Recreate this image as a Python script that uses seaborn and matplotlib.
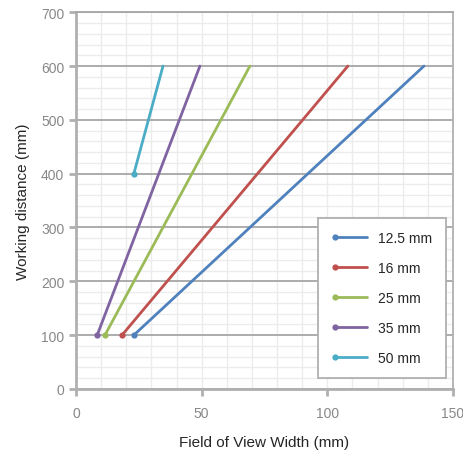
import matplotlib
matplotlib.use("Agg")
import matplotlib.pyplot as plt
import seaborn as sns
from matplotlib.ticker import MultipleLocator

# Field of view width (mm) at working distance, per lens focal length
labels = ["12.5 mm", "16 mm", "25 mm", "35 mm", "50 mm"]
distance = {
    "12.5 mm": [100, 600],
    "16 mm": [100, 600],
    "25 mm": [100, 600],
    "35 mm": [100, 600],
    "50 mm": [400, 600],
}
fov_width = {
    "12.5 mm": [23.0, 138.5],
    "16 mm": [18.3, 108.2],
    "25 mm": [11.5, 69.2],
    "35 mm": [8.4, 49.3],
    "50 mm": [23.0, 34.6],
}
colors = ["#4F81BD", "#C0504D", "#9BBB59", "#8064A2", "#4BACC6"]

sns.set_style("white")
plt.rcParams['font.family'] = ['Liberation Sans', 'DejaVu Sans']

fig, ax = plt.subplots(figsize=(4.64, 4.56), dpi=100)
fig.subplots_adjust(left=0.164, right=0.976, top=0.971, bottom=0.145)

for lab, col in zip(labels, colors):
    sns.lineplot(x=fov_width[lab], y=distance[lab], ax=ax, color=col,
                 linewidth=2, marker='o', markersize=4.5, markeredgewidth=0,
                 markevery=[0], label=lab, sort=False)

ax.set_xlim(0, 150)
ax.set_ylim(0, 700)
ax.xaxis.set_major_locator(MultipleLocator(50))
ax.yaxis.set_major_locator(MultipleLocator(100))
ax.xaxis.set_minor_locator(MultipleLocator(10))
ax.yaxis.set_minor_locator(MultipleLocator(20))

ax.grid(which='minor', color='#ececec', linewidth=1)
ax.grid(which='major', axis='x', color='#ececec', linewidth=1)
ax.grid(which='major', axis='y', color='#a6a6a6', linewidth=1.3)
ax.set_axisbelow(True)

for side in ['left', 'bottom', 'right', 'top']:
    ax.spines[side].set_color('#b0b0b0')
    ax.spines[side].set_linewidth(1.3)
ax.spines['left'].set_linewidth(2)
ax.spines['bottom'].set_linewidth(2)
ax.spines['top'].set_color('#a6a6a6')

ax.tick_params(which='major', direction='out', length=5, width=2,
               color='#b0b0b0', labelcolor='#888888', labelsize=10,
               bottom=True, left=True)
ax.tick_params(axis='x', pad=7)
ax.tick_params(which='minor', length=0)

ax.set_xlabel("Field of View Width (mm)", fontsize=11, labelpad=11)
ax.set_ylabel("Working distance (mm)", fontsize=11, labelpad=8)

leg = ax.legend(loc='lower right', bbox_to_anchor=(0.981, 0.029),
                borderaxespad=0, numpoints=2,
                fontsize=10, labelspacing=1.15, handlelength=2.9,
                borderpad=0.95, fancybox=False, framealpha=1,
                edgecolor='#b0b0b0', handletextpad=0.5)
leg.get_frame().set_linewidth(1.3)
for h in leg.get_lines():
    h.set_markevery([0])

plt.savefig("out.png", dpi=100)
